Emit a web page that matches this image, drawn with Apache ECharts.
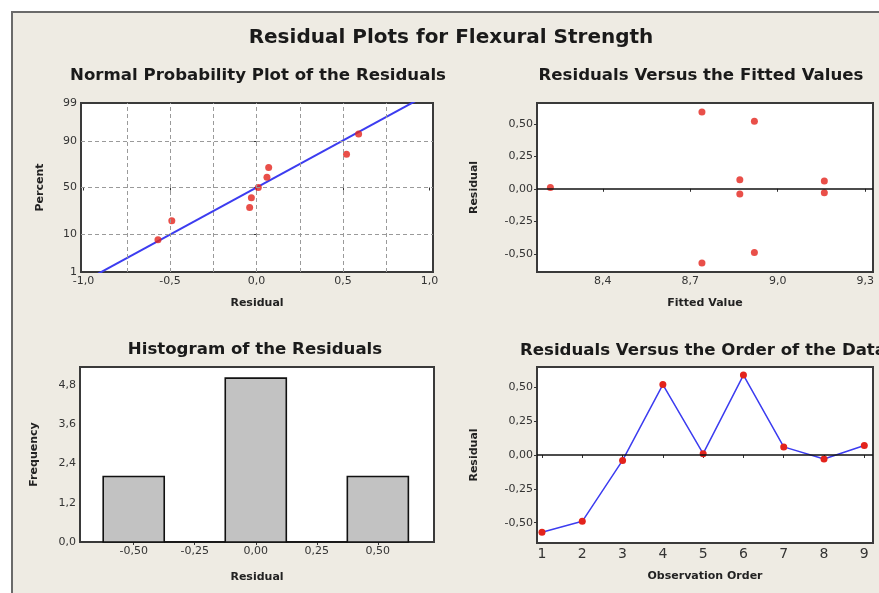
<!DOCTYPE html>
<html>
<head>
<meta charset="utf-8">
<script src="https://cdn.jsdelivr.net/npm/echarts@6/dist/echarts.min.js"></script>
<style>
  html, body { margin: 0; padding: 0; background: #ffffff; }
  #chart { width: 879px; height: 593px; }
</style>
</head>
<body>
<div id="chart"></div>
<script>
// ---------- DATA ----------
const mainTitle = 'Residual Plots for Flexural Strength';
const panelTitles = [
  'Normal Probability Plot of the Residuals',
  'Residuals Versus the Fitted Values',
  'Histogram of the Residuals',
  'Residuals Versus the Order of the Data'
];
// residuals in observation order 1..9
const observationOrder = [1, 2, 3, 4, 5, 6, 7, 8, 9];
const residuals = [-0.57, -0.49, -0.04, 0.52, 0.01, 0.59, 0.06, -0.03, 0.07];
// fitted values in observation order
const fittedValues = [8.74, 8.92, 8.87, 8.92, 8.22, 8.74, 9.16, 9.16, 8.87];
// plotting percents of the sorted residuals (normal probability plot)
const probPercents = [7.5, 18, 29, 39, 50, 61, 71, 82, 93];
// normal fit line parameters (mean, st.dev of residuals)
const fitMean = 0.0;
const fitStDev = 0.386;
// histogram
const histBinCenters = [-0.5, -0.25, 0, 0.25, 0.5];
const histFreq = [2, 0, 5, 0, 2];
const histBinWidth = 0.25;
// tick labels
const nppXTicks = [-1.0, -0.5, 0.0, 0.5, 1.0];
const nppPercentTicks = [1, 10, 50, 90, 99];
const nppGridX = [-0.75, -0.5, -0.25, 0, 0.25, 0.5, 0.75];
const nppGridPercents = [10, 50, 90];
const fittedXTicks = [8.4, 8.7, 9.0, 9.3];
const residYTicks = [-0.5, -0.25, 0, 0.25, 0.5];
const histXTicks = [-0.5, -0.25, 0, 0.25, 0.5];
const histYTicks = [0, 1.2, 2.4, 3.6, 4.8];

// ---------- helpers ----------
function invNorm(p) {
  // Acklam's inverse normal CDF approximation
  const a = [-3.969683028665376e+01, 2.209460984245205e+02, -2.759285104469687e+02, 1.383577518672690e+02, -3.066479806614716e+01, 2.506628277459239e+00];
  const b = [-5.447609879822406e+01, 1.615858368580409e+02, -1.556989798598866e+02, 6.680131188771972e+01, -1.328068155288572e+01];
  const c = [-7.784894002430293e-03, -3.223964580411365e-01, -2.400758277161838e+00, -2.549732539343734e+00, 4.374664141464968e+00, 2.938163982698783e+00];
  const d = [7.784695709041462e-03, 3.224671290700398e-01, 2.445134137142996e+00, 3.754408661907416e+00];
  const pl = 0.02425, ph = 1 - pl;
  let q, r;
  if (p < pl) {
    q = Math.sqrt(-2 * Math.log(p));
    return (((((c[0]*q+c[1])*q+c[2])*q+c[3])*q+c[4])*q+c[5]) / ((((d[0]*q+d[1])*q+d[2])*q+d[3])*q+1);
  } else if (p <= ph) {
    q = p - 0.5; r = q * q;
    return (((((a[0]*r+a[1])*r+a[2])*r+a[3])*r+a[4])*r+a[5])*q / (((((b[0]*r+b[1])*r+b[2])*r+b[3])*r+b[4])*r+1);
  } else {
    q = Math.sqrt(-2 * Math.log(1 - p));
    return -(((((c[0]*q+c[1])*q+c[2])*q+c[3])*q+c[4])*q+c[5]) / ((((d[0]*q+d[1])*q+d[2])*q+d[3])*q+1);
  }
}
const zOf = pct => invNorm(pct / 100);
const comma = (v, dec) => v.toFixed(dec).replace('.', ',');

const sortedResid = residuals.slice().sort((x, y) => x - y);
const nppPoints = sortedResid.map((r, i) => [r, zOf(probPercents[i])]);
const zLo = zOf(nppPercentTicks[0]);
const zHi = zOf(nppPercentTicks[nppPercentTicks.length - 1]);
const nppZTicks = nppPercentTicks.map(zOf);
const fitLine = [-3, 3].map(z => [fitMean + fitStDev * z, z]);

const fittedPoints = fittedValues.map((f, i) => [f, residuals[i]]);
const orderPoints = observationOrder.map((o, i) => [o, residuals[i]]);
const histData = histBinCenters.map((c, i) => [c, histFreq[i]]);

// ---------- styles ----------
const FONT = 'DejaVu Sans';
const RED = '#e3231c';
const BLUE = '#3c3cf0';
const labelStyle = { fontFamily: FONT, fontSize: 11, color: '#333', margin: 4 };
const nameStyle = { fontFamily: FONT, fontSize: 11, fontWeight: 'bold', color: '#222' };
const tick = { show: true, length: 3, inside: false, lineStyle: { color: '#333', width: 1 } };

function gridBox(left, top, width, height) {
  return { left, top, width, height, show: true, backgroundColor: '#ffffff',
           borderColor: '#3a3a3a', borderWidth: 2, containLabel: false };
}
function xAx(gi, min, max, ticks, dec, name, gap, fs) {
  return {
    type: 'value', gridIndex: gi, min, max, name, nameLocation: 'middle', nameGap: gap,
    nameTextStyle: nameStyle,
    axisLine: { show: false },
    axisTick: Object.assign({ customValues: ticks }, tick),
    axisLabel: Object.assign({ customValues: ticks, formatter: v => comma(v, dec) }, labelStyle, fs ? { fontSize: fs } : {}),
    splitLine: { show: false }
  };
}
function yAx(gi, min, max, ticks, fmt, name, gap) {
  return {
    type: 'value', gridIndex: gi, min, max, name, nameLocation: 'middle', nameGap: gap,
    nameTextStyle: nameStyle,
    axisLine: { show: false },
    axisTick: Object.assign({ customValues: ticks }, tick),
    axisLabel: Object.assign({ customValues: ticks, formatter: fmt }, labelStyle),
    splitLine: { show: false }
  };
}
const zeroLine = {
  silent: true, symbol: 'none', label: { show: false },
  lineStyle: { color: '#111', width: 1.5, type: 'solid' },
  data: [{ yAxis: 0 }]
};
const titleStyle = { fontFamily: FONT, fontSize: 16.6, fontWeight: 'bold', fill: '#1a1a1a', textVerticalAlign: 'middle' };

const chart = echarts.init(document.getElementById('chart'), null, { renderer: 'canvas' });

const option = {
  animation: false,
  backgroundColor: '#ffffff',
  graphic: [
    { type: 'rect', z: -10, shape: { x: 12, y: 12, width: 900, height: 700 },
      style: { fill: '#eeebe3', stroke: '#6a6a6a', lineWidth: 2 } },
    { type: 'text', x: 451, y: 38, style: { text: mainTitle, fontFamily: FONT, fontSize: 20, fontWeight: 'bold',
      fill: '#1a1a1a', textAlign: 'center', textVerticalAlign: 'middle' } },
    { type: 'text', x: 258, y: 76, style: Object.assign({ text: panelTitles[0], textAlign: 'center' }, titleStyle) },
    { type: 'text', x: 701, y: 76, style: Object.assign({ text: panelTitles[1], textAlign: 'center' }, titleStyle) },
    { type: 'text', x: 255, y: 350, style: Object.assign({ text: panelTitles[2], textAlign: 'center' }, titleStyle) },
    { type: 'text', x: 520, y: 351, style: Object.assign({ text: panelTitles[3], textAlign: 'left' }, titleStyle) }
  ],
  grid: [
    gridBox(81, 103, 352, 169),
    gridBox(537, 103, 336, 169),
    gridBox(80, 367, 354, 175),
    gridBox(537, 367, 336, 176)
  ],
  xAxis: [
    xAx(0, -1.015, 1.02, nppXTicks, 1, 'Residual', 26),
    xAx(1, 8.174, 9.327, fittedXTicks, 1, 'Fitted Value', 26),
    xAx(2, -0.72, 0.73, histXTicks, 2, 'Residual', 30),
    xAx(3, 0.876, 9.216, observationOrder, 0, 'Observation Order', 28, 14)
  ],
  yAxis: [
    yAx(0, zLo, zHi, nppZTicks, v => {
      const i = nppZTicks.findIndex(z => Math.abs(z - v) < 1e-6);
      return i >= 0 ? String(nppPercentTicks[i]) : '';
    }, 'Percent', 35),
    yAx(1, -0.64, 0.66, residYTicks, v => comma(v, 2), 'Residual', 57),
    yAx(2, 0, 5.34, histYTicks, v => comma(v, 1), 'Frequency', 40),
    yAx(3, -0.65, 0.65, residYTicks, v => comma(v, 2), 'Residual', 57)
  ],
  series: [
    // Normal probability plot: grid lines + fit line + points
    {
      type: 'line', xAxisIndex: 0, yAxisIndex: 0, data: fitLine, symbol: 'none', clip: true,
      lineStyle: { color: BLUE, width: 2 }, z: 3,
      markLine: {
        silent: true, symbol: 'none', label: { show: false },
        lineStyle: { color: '#9a9a9a', width: 1, type: [4, 3] },
        data: nppGridX.map(x => ({ xAxis: x })).concat(nppGridPercents.map(p => ({ yAxis: zOf(p) })))
      }
    },
    {
      type: 'scatter', xAxisIndex: 0, yAxisIndex: 0, data: nppPoints, symbol: 'circle', symbolSize: 7,
      itemStyle: { color: RED }, z: 4
    },
    // Residuals vs fitted
    {
      type: 'scatter', xAxisIndex: 1, yAxisIndex: 1, data: fittedPoints, symbol: 'circle', symbolSize: 7,
      itemStyle: { color: RED }, z: 4, markLine: zeroLine
    },
    // Histogram
    {
      type: 'custom', xAxisIndex: 2, yAxisIndex: 2, data: histData, z: 3,
      renderItem: function (params, api) {
        const c = api.value(0), f = api.value(1);
        const p0 = api.coord([c - histBinWidth / 2, f]);
        const p1 = api.coord([c + histBinWidth / 2, 0]);
        return {
          type: 'rect',
          shape: { x: p0[0], y: p0[1], width: p1[0] - p0[0], height: p1[1] - p0[1] },
          style: { fill: '#c2c2c2', stroke: '#111', lineWidth: 1.6 }
        };
      }
    },
    // Residuals vs order
    {
      type: 'line', xAxisIndex: 3, yAxisIndex: 3, data: orderPoints, symbol: 'circle', symbolSize: 7,
      itemStyle: { color: RED }, lineStyle: { color: BLUE, width: 1.5 }, z: 4, markLine: zeroLine
    }
  ]
};
chart.setOption(option);
</script>
</body>
</html>
